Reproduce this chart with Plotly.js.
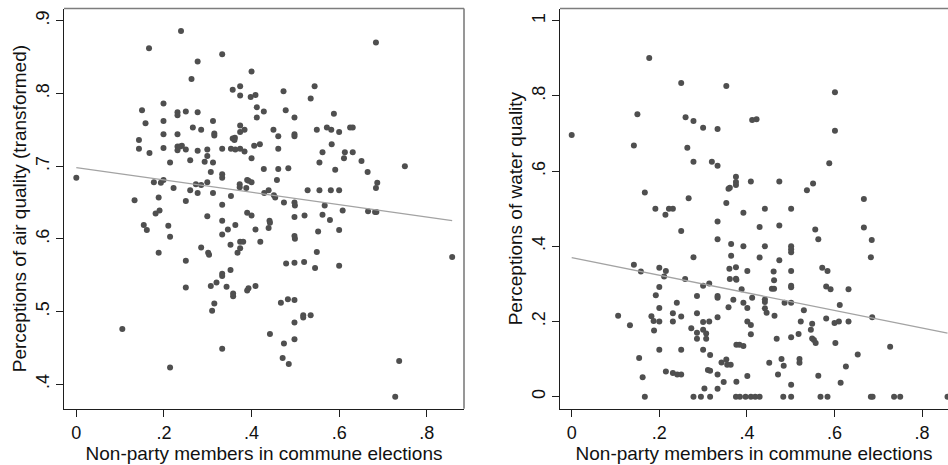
<!DOCTYPE html>
<html>
<head>
<meta charset="utf-8">
<script src="https://cdn.plot.ly/plotly-3.0.1.min.js"></script>
<style>
  html, body { margin: 0; padding: 0; background: #fff; }
  #chart { width: 948px; height: 465px; }
</style>
</head>
<body>
<div id="chart"></div>
<script>
// ---------- Data ----------
const xTickVals = [0, 0.2, 0.4, 0.6, 0.8];
const xTickText = ['0', '.2', '.4', '.6', '.8'];
const airTickVals = [0.4, 0.5, 0.6, 0.7, 0.8, 0.9];
const airTickText = ['.4', '.5', '.6', '.7', '.8', '.9'];
const waterTickVals = [0, 0.2, 0.4, 0.6, 0.8, 1];
const waterTickText = ['0', '.2', '.4', '.6', '.8', '1'];

const xTitle = 'Non-party members in commune elections';
const airTitle = 'Perceptions of air quality (transformed)';
const waterTitle = 'Perceptions of water quality';

// Left panel: air quality
const airX = [0,0.105,0.133,0.143,0.143,0.150,0.154,0.158,0.161,0.166,0.167,0.177,0.181,0.188,0.188,0.190,0.193,0.199,0.199,0.199,
  0.199,0.199,0.210,0.214,0.214,0.214,0.222,0.231,0.231,0.231,0.231,0.231,0.237,0.239,0.241,0.250,0.250,0.250,0.250,0.250,
  0.260,0.260,0.263,0.266,0.273,0.277,0.277,0.277,0.277,0.285,0.285,0.285,0.293,0.299,0.299,0.299,0.299,0.301,0.303,0.307,
  0.307,0.310,0.312,0.312,0.312,0.315,0.315,0.315,0.320,0.333,0.333,0.333,0.333,0.333,0.333,0.333,0.333,0.333,0.333,0.343,
  0.346,0.352,0.352,0.353,0.353,0.357,0.357,0.362,0.361,0.358,0.358,0.363,0.363,0.368,0.373,0.373,0.374,0.374,0.374,0.374,
  0.374,0.374,0.374,0.381,0.384,0.384,0.388,0.390,0.390,0.390,0.393,0.393,0.400,0.398,0.400,0.400,0.400,0.406,0.409,0.409,
  0.409,0.412,0.412,0.419,0.420,0.428,0.428,0.429,0.439,0.439,0.441,0.442,0.442,0.450,0.451,0.454,0.458,0.461,0.461,0.461,
  0.467,0.471,0.473,0.474,0.474,0.478,0.479,0.483,0.484,0.485,0.498,0.498,0.498,0.498,0.499,0.498,0.498,0.499,0.498,0.498,
  0.498,0.498,0.518,0.518,0.520,0.521,0.528,0.535,0.535,0.544,0.545,0.549,0.549,0.552,0.555,0.555,0.562,0.562,0.567,0.572,
  0.579,0.581,0.583,0.582,0.588,0.591,0.600,0.600,0.600,0.600,0.608,0.611,0.613,0.625,0.631,0.631,0.651,0.665,0.666,0.682,
  0.684,0.684,0.687,0.685,0.728,0.737,0.750,0.858];
const airY = [0.684,0.476,0.653,0.736,0.724,0.777,0.619,0.759,0.612,0.862,0.718,0.678,0.635,0.657,0.581,0.639,0.677,0.681,0.786,0.762,
  0.744,0.725,0.618,0.705,0.603,0.423,0.670,0.774,0.770,0.744,0.727,0.722,0.727,0.886,0.728,0.775,0.723,0.652,0.570,0.533,
  0.708,0.667,0.820,0.753,0.675,0.844,0.774,0.721,0.663,0.674,0.750,0.588,0.706,0.723,0.714,0.678,0.631,0.581,0.578,0.692,
  0.535,0.501,0.762,0.705,0.663,0.745,0.742,0.511,0.540,0.724,0.854,0.689,0.684,0.647,0.625,0.606,0.552,0.549,0.449,0.534,
  0.613,0.557,0.592,0.659,0.724,0.805,0.738,0.739,0.736,0.525,0.521,0.723,0.619,0.581,0.675,0.671,0.756,0.747,0.810,0.797,
  0.724,0.587,0.596,0.596,0.750,0.720,0.670,0.681,0.636,0.529,0.532,0.680,0.830,0.795,0.711,0.678,0.632,0.728,0.798,0.613,
  0.535,0.781,0.767,0.730,0.596,0.775,0.696,0.663,0.667,0.615,0.625,0.622,0.469,0.750,0.660,0.657,0.681,0.741,0.724,0.696,
  0.512,0.436,0.803,0.650,0.456,0.777,0.566,0.517,0.697,0.428,0.767,0.744,0.741,0.650,0.646,0.630,0.604,0.600,0.567,0.516,
  0.485,0.462,0.495,0.492,0.568,0.632,0.667,0.793,0.495,0.810,0.560,0.750,0.582,0.610,0.705,0.667,0.719,0.633,0.646,0.753,
  0.626,0.667,0.730,0.750,0.772,0.695,0.747,0.667,0.612,0.563,0.639,0.711,0.719,0.753,0.753,0.719,0.707,0.692,0.638,0.637,
  0.870,0.670,0.677,0.637,0.383,0.432,0.700,0.575];

// Right panel: water quality
const waterX = [0,0.106,0.133,0.142,0.142,0.150,0.154,0.158,0.162,0.167,0.167,0.177,0.182,0.187,0.188,0.192,0.191,0.200,0.200,0.200,
  0.200,0.200,0.211,0.214,0.215,0.215,0.222,0.231,0.231,0.231,0.231,0.240,0.241,0.250,0.250,0.250,0.250,0.250,0.259,0.260,
  0.264,0.267,0.273,0.278,0.278,0.278,0.278,0.286,0.286,0.286,0.286,0.295,0.300,0.300,0.300,0.300,0.300,0.303,0.307,0.307,
  0.311,0.316,0.314,0.314,0.316,0.316,0.320,0.333,0.333,0.333,0.333,0.333,0.333,0.333,0.333,0.333,0.342,0.347,0.353,0.353,
  0.353,0.355,0.358,0.361,0.358,0.360,0.361,0.363,0.364,0.364,0.369,0.375,0.375,0.375,0.375,0.375,0.376,0.376,0.383,0.376,
  0.375,0.384,0.397,0.409,0.419,0.429,0.388,0.392,0.392,0.392,0.392,0.401,0.401,0.401,0.401,0.409,0.409,0.409,0.412,0.412,
  0.422,0.429,0.429,0.441,0.441,0.441,0.441,0.441,0.445,0.451,0.457,0.462,0.461,0.462,0.463,0.468,0.471,0.474,0.474,0.474,
  0.479,0.484,0.483,0.486,0.501,0.501,0.501,0.501,0.501,0.501,0.501,0.501,0.501,0.501,0.501,0.518,0.520,0.520,0.523,0.530,
  0.537,0.546,0.549,0.551,0.549,0.553,0.557,0.556,0.563,0.563,0.568,0.572,0.581,0.581,0.584,0.584,0.591,0.588,0.601,0.601,
  0.600,0.610,0.602,0.612,0.614,0.626,0.632,0.632,0.653,0.667,0.667,0.683,0.685,0.686,0.683,0.687,0.727,0.736,0.750,0.858];
const waterY = [0.696,0.215,0.190,0.668,0.351,0.751,0.103,0.333,0.052,0.543,0,0.901,0.214,0.201,0.176,0.270,0.500,0.343,0.292,0.236,
  0.200,0.125,0.320,0.484,0.334,0.067,0.500,0.500,0.222,0.200,0.063,0.250,0.059,0.059,0.834,0.441,0.213,0.125,0.313,0.743,
  0.662,0.528,0.182,0.733,0.625,0.371,0,0.170,0.154,0.268,0.222,0,0.715,0.295,0.199,0.125,0.178,0.022,0.168,0.154,
  0.071,0.069,0.301,0.200,0.111,0,0.625,0.712,0.614,0.466,0.419,0.268,0.263,0.211,0.059,0.021,0.091,0.039,0.826,0.515,
  0.099,0.085,0.553,0.556,0.238,0.340,0.313,0.085,0.406,0.375,0.258,0.585,0.571,0.563,0.344,0.314,0.138,0.040,0.138,0.311,
  0,0,0,0,0,0,0.286,0.489,0.400,0.250,0.135,0.334,0.236,0.200,0.055,0.191,0.572,0.166,0.263,0.736,
  0.738,0.451,0.370,0.500,0.400,0.259,0.252,0.235,0.223,0.090,0.287,0.287,0.333,0.310,0.215,0.154,0.059,0.572,0.455,0.363,
  0.100,0.082,0,0.250,0.500,0.400,0.392,0.384,0.334,0.295,0.291,0.250,0.158,0.032,0,0.167,0.100,0.090,0.200,0.230,
  0.549,0.178,0.194,0.567,0.155,0.151,0.143,0.445,0.419,0.056,0,0.343,0.208,0.293,0.334,0,0.286,0.621,0.810,0.707,
  0.196,0.200,0.143,0.244,0.037,0.080,0.286,0.200,0.112,0.526,0.450,0.371,0.417,0.211,0,0,0.133,0,0,0];

// Fitted lines (endpoints)
const fitX = [0, 0.858];
const fitAir = [0.698, 0.625];
const fitWater = [0.370, 0.169];

// ---------- Styling ----------
const W = 948, H = 465;
const FONT = 'Liberation Sans, Arial, Helvetica, sans-serif';
const dotColor = '#4f4f4f';
const fitColor = '#a3a3a3';
const axisColor = '#1e1e1e';
const frameColor = '#7d7d7d';

// Plot boxes in pixels
const boxTop = 8.5, boxBottom = 408.7;
const leftBox = [64, 464];
const rightBox = [560, 948];
const yDom = [1 - boxBottom / H, 1 - boxTop / H];

const markerStyle = { color: dotColor, size: 6, line: { width: 0 } };

const traces = [
  { x: airX, y: airY, type: 'scatter', mode: 'markers', marker: markerStyle, xaxis: 'x', yaxis: 'y', hoverinfo: 'skip' },
  { x: fitX, y: fitAir, type: 'scatter', mode: 'lines', line: { color: fitColor, width: 1.3 }, xaxis: 'x', yaxis: 'y', hoverinfo: 'skip' },
  { x: waterX, y: waterY, type: 'scatter', mode: 'markers', marker: markerStyle, xaxis: 'x2', yaxis: 'y2', hoverinfo: 'skip' },
  { x: fitX, y: fitWater, type: 'scatter', mode: 'lines', line: { color: fitColor, width: 1.3 }, xaxis: 'x2', yaxis: 'y2', hoverinfo: 'skip' }
];

function xAxis(domain, range, anchor) {
  return {
    domain: domain, range: range, anchor: anchor,
    tickmode: 'array', tickvals: xTickVals, ticktext: xTickText,
    ticks: 'outside', ticklen: 7, tickwidth: 1, tickcolor: axisColor,
    showline: true, linecolor: axisColor, linewidth: 1.3,
    showgrid: false, zeroline: false,
    tickfont: { family: FONT, size: 18, color: '#111' },
    title: { text: xTitle, font: { family: FONT, size: 19, color: '#111' }, standoff: 4 }
  };
}
function yAxis(domain, range, anchor, vals, text, title) {
  return {
    domain: domain, range: range, anchor: anchor,
    tickmode: 'array', tickvals: vals, ticktext: text, tickangle: -90,
    ticks: 'outside', ticklen: 7, tickwidth: 1, tickcolor: axisColor,
    showline: true, linecolor: axisColor, linewidth: 1.3,
    showgrid: false, zeroline: false,
    tickfont: { family: FONT, size: 18, color: '#111' },
    title: { text: title, font: { family: FONT, size: 19, color: '#111' }, standoff: 0 }
  };
}

const layout = {
  width: W, height: H,
  margin: { l: 0, r: 0, t: 0, b: 0, pad: 0 },
  paper_bgcolor: '#ffffff', plot_bgcolor: '#ffffff',
  showlegend: false,
  xaxis: xAxis([leftBox[0] / W, leftBox[1] / W], [-0.0281, 0.885], 'y'),
  yaxis: yAxis(yDom, [0.3664, 0.9168], 'x', airTickVals, airTickText, airTitle),
  xaxis2: xAxis([rightBox[0] / W, rightBox[1] / W], [-0.0267, 0.8591], 'y2'),
  yaxis2: yAxis(yDom, [-0.0319, 1.0324], 'x2', waterTickVals, waterTickText, waterTitle),
  shapes: [
    { type: 'line', xref: 'x domain', yref: 'y domain', x0: 0, x1: 1, y0: 1, y1: 1, line: { color: frameColor, width: 1.6 } },
    { type: 'line', xref: 'x domain', yref: 'y domain', x0: 1, x1: 1, y0: 0, y1: 1, line: { color: frameColor, width: 1.6 } },
    { type: 'line', xref: 'x2 domain', yref: 'y2 domain', x0: 0, x1: 1, y0: 1, y1: 1, line: { color: frameColor, width: 1.6 } }
  ]
};

Plotly.newPlot('chart', traces, layout, { staticPlot: true, displayModeBar: false });
</script>
</body>
</html>
